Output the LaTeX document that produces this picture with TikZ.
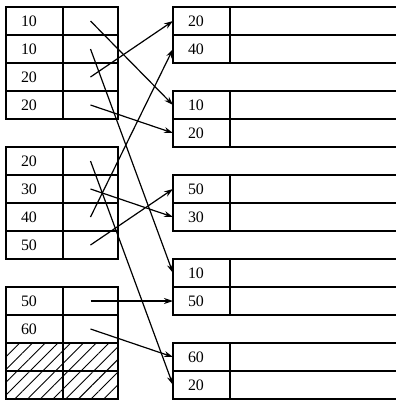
\documentclass[tikz,border=0pt]{standalone}
\usepackage{fontspec}
\setmainfont{Liberation Serif}
\usetikzlibrary{arrows.meta,patterns.meta}

\begin{document}
\begin{tikzpicture}[x=1bp,y=-1bp,>={Stealth[length=9bp,width=6bp]},
  cell/.style={draw,line width=1.4bp,minimum height=28bp,inner ysep=0pt,
    outer sep=0pt,anchor=north west,font=\fontsize{16}{16}\selectfont},
  keycell/.style={cell,text width=27bp,inner xsep=15bp,align=left},
  ptrcell/.style={cell,minimum width=55bp,inner xsep=0pt},
  datacell/.style={cell,minimum width=168bp,inner xsep=0pt},
  hatched/.style={pattern={Lines[angle=45,distance=9bp,line width=0.9bp]}},
  link/.style={->,line width=1.2bp}]
  \useasboundingbox (0,0) rectangle (396,401);
  % sorted runs, on the left
  \foreach \r/\v in {0/10,1/10,2/20,3/20,5/20,6/30,7/40,8/50,10/50,11/60} {
    \node[keycell] (lk\r) at (6,7+28*\r) {\v};
    \node[ptrcell] (lp\r) at (lk\r.north east) {};
  }
  % empty slots at the end of the last run
  \foreach \r in {12,13} {
    \node[keycell,hatched] (lk\r) at (6,7+28*\r) {};
    \node[ptrcell,hatched] (lp\r) at (lk\r.north east) {};
  }
  % blocks, on the right
  \foreach \r/\v in {0/20,1/40,3/10,4/20,6/50,7/30,9/10,10/50,12/60,13/20} {
    \node[keycell] (rk\r) at (173,7+28*\r) {\v};
    \node[datacell] (rd\r) at (rk\r.north east) {};
  }
  % pointers
  \foreach \a/\b in {0/3,1/9,2/0,3/4,5/13,6/7,7/1,8/6,10/10,11/12}
    \draw[link] (lp\a.center) -- (rk\b.west);
\end{tikzpicture}
\end{document}
